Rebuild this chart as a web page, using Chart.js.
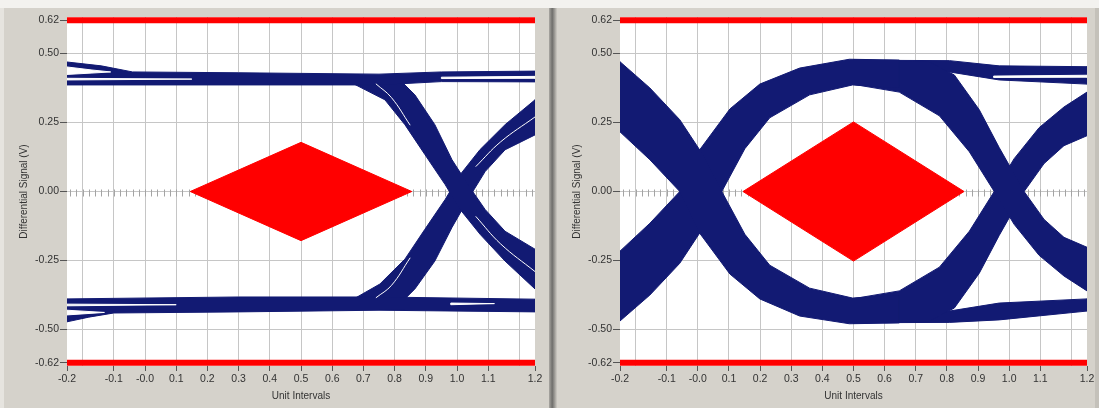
<!DOCTYPE html>
<html lang="en">
<head>
<meta charset="UTF-8">
<title>Eye Diagrams</title>
<script src="https://cdn.jsdelivr.net/npm/chart.js"></script>
<style>
  html, body { margin: 0; padding: 0; }
  body { width: 1099px; height: 408px; background: #f3f2ef; position: relative; overflow: hidden; }
  .panel { position: absolute; top: 8px; height: 400px; background: #d5d2cb; }
  #panelLeft { left: 0; width: 549px; border-left: 4px solid #e6e4df; box-sizing: border-box; }
  #divider { position: absolute; left: 549px; top: 8px; width: 8px; height: 400px;
             background: linear-gradient(to right, #aaa8a3, #6f6e6b 40%, #9d9b96 70%, #cfccc5); }
  #panelRight { left: 557px; width: 542px; border-right: 4px solid #c4c1ba; box-sizing: border-box; }
  canvas { position: absolute; top: 0; }
  #leftChart { left: 0; }
  #rightChart { left: 553px; }
</style>
</head>
<body>
  <div class="panel" id="panelLeft"></div>
  <div id="divider"></div>
  <div class="panel" id="panelRight"></div>
  <canvas id="leftChart" width="548" height="408"></canvas>
  <canvas id="rightChart" width="546" height="408"></canvas>

<script>
// axis ticks (ends are the axis limits, LabVIEW prints them rounded)
const xTickValues = [-0.25, -0.2, -0.1, 0.0, 0.1, 0.2, 0.3, 0.4, 0.5, 0.6, 0.7, 0.8, 0.9, 1.0, 1.1, 1.2, 1.25];
const xTickLabels = ['-0.2', '', '-0.1', '-0.0', '0.1', '0.2', '0.3', '0.4', '0.5', '0.6', '0.7', '0.8', '0.9', '1.0', '1.1', '', '1.2'];
const yTickValues = [-0.62, -0.5, -0.25, 0, 0.25, 0.5, 0.62];
const limitLevel = 0.62;

// eye masks (diamonds)
const leftMask = [[0.145, 0], [0.5, 0.178], [0.855, 0], [0.5, -0.178], [0.145, 0]];
const rightMask = [[0.145, 0], [0.5, 0.252], [0.855, 0], [0.5, -0.252], [0.145, 0]];

// left eye: trace envelopes (x in UI, y in V)
const leftTopRail = [[-0.25, 0.469], [-0.14, 0.455], [-0.04, 0.433], [0.3, 0.43], [0.75, 0.425], [0.95, 0.433], [1.25, 0.436],
  [1.25, 0.397], [0.95, 0.398], [0.75, 0.386], [0.3, 0.386], [-0.25, 0.386], [-0.25, 0.469]];
const leftBottomRail = [[-0.25, -0.389], [0.3, -0.382], [0.75, -0.382], [1.25, -0.39],
  [1.25, -0.436], [0.75, -0.43], [0.3, -0.436], [-0.1, -0.44], [-0.18, -0.455], [-0.25, -0.472], [-0.25, -0.389]];
const leftFall = [[0.66, 0.395], [0.769, 0.332], [0.833, 0.242], [0.897, 0.134], [0.962, 0.025], [1.01, -0.065], [1.074, -0.155], [1.154, -0.252], [1.25, -0.353],
  [1.25, -0.209], [1.154, -0.144], [1.09, -0.065], [1.035, 0.025], [0.984, 0.115], [0.929, 0.242], [0.865, 0.35], [0.817, 0.404], [0.66, 0.395]];
const leftRise = [[0.66, -0.395], [0.753, -0.335], [0.833, -0.245], [0.897, -0.137], [0.962, -0.029], [1.01, 0.061], [1.074, 0.152], [1.154, 0.242], [1.25, 0.332],
  [1.25, 0.205], [1.154, 0.151], [1.09, 0.072], [1.035, -0.029], [0.984, -0.13], [0.929, -0.252], [0.865, -0.353], [0.817, -0.407], [0.66, -0.395]];
const leftGaps = [
  [[-0.25, 0.451], [-0.17, 0.44], [-0.11, 0.433], [-0.17, 0.429], [-0.25, 0.424], [-0.25, 0.451]],
  [[-0.25, 0.41], [0.15, 0.407], [-0.25, 0.404], [-0.25, 0.41]],
  [[0.95, 0.414], [1.25, 0.417], [1.25, 0.41], [0.95, 0.409], [0.95, 0.414]],
  [[-0.25, -0.43], [-0.13, -0.438], [-0.25, -0.447], [-0.25, -0.43]],
  [[-0.25, -0.408], [0.1, -0.41], [-0.25, -0.414], [-0.25, -0.408]],
  [[0.98, -0.404], [1.12, -0.406], [0.98, -0.41], [0.98, -0.404]]
];
const leftStreaks = [
  [[0.74, 0.39], [0.79, 0.34], [0.85, 0.24]],
  [[1.06, -0.09], [1.14, -0.19], [1.25, -0.29]],
  [[0.74, -0.385], [0.79, -0.34], [0.85, -0.24]],
  [[1.06, 0.09], [1.14, 0.18], [1.25, 0.27]]
];

// right eye: trace envelopes
const rightFall1 = [[-0.25, 0.47], [-0.154, 0.375], [-0.058, 0.26], [0.022, 0.123], [0.077, 0], [0.151, -0.155], [0.231, -0.267], [0.359, -0.35], [0.497, -0.386], [0.647, -0.375],
  [0.647, -0.476], [0.487, -0.479], [0.327, -0.451], [0.199, -0.389], [0.103, -0.299], [0.006, -0.151], [-0.058, 0], [-0.154, 0.115], [-0.25, 0.216], [-0.25, 0.47]];
const rightRise1 = [[-0.25, -0.469], [-0.154, -0.375], [-0.058, -0.26], [0.022, -0.123], [0.077, 0], [0.151, 0.155], [0.231, 0.267], [0.359, 0.35], [0.497, 0.386], [0.647, 0.375],
  [0.647, 0.476], [0.487, 0.479], [0.327, 0.447], [0.199, 0.389], [0.103, 0.299], [0.006, 0.151], [-0.058, 0], [-0.154, -0.115], [-0.25, -0.216], [-0.25, -0.469]];
const rightFall2 = [[0.5, 0.477], [0.744, 0.469], [0.824, 0.422], [0.904, 0.296], [0.968, 0.159], [1.048, 0], [1.112, -0.101], [1.176, -0.166], [1.25, -0.202],
  [1.25, -0.36], [1.176, -0.306], [1.096, -0.231], [1.016, -0.119], [0.952, 0], [0.872, 0.144], [0.776, 0.274], [0.647, 0.36], [0.5, 0.388], [0.5, 0.477]];
const rightRise2 = [[0.5, -0.477], [0.744, -0.469], [0.824, -0.422], [0.904, -0.296], [0.968, -0.159], [1.048, 0], [1.112, 0.101], [1.176, 0.166], [1.25, 0.202],
  [1.25, 0.36], [1.176, 0.306], [1.096, 0.231], [1.016, 0.119], [0.952, 0], [0.872, -0.144], [0.776, -0.274], [0.647, -0.36], [0.5, -0.388], [0.5, -0.477]];
const rightTopRail = [[0.6, 0.475], [0.808, 0.474], [0.968, 0.455], [1.25, 0.452], [1.25, 0.389], [0.968, 0.404], [0.808, 0.433], [0.6, 0.44], [0.6, 0.475]];
const rightBottomRail = [[0.6, -0.44], [0.808, -0.433], [0.968, -0.404], [1.25, -0.389], [1.25, -0.433], [0.968, -0.465], [0.808, -0.474], [0.6, -0.475], [0.6, -0.44]];
const rightGaps = [
  [[0.95, 0.418], [1.25, 0.421], [1.25, 0.414], [0.95, 0.413], [0.95, 0.418]]
];
const rightStreaks = [];

const traceColor = '#121a73';
const maskColor = '#ff0000';
const gridColor = '#c6c6c6';

Chart.defaults.font.family = '"Liberation Sans", Arial, sans-serif';
Chart.defaults.color = '#333';

function pts(arr) {
  return arr.map(p => ({ x: p[0], y: p[1] }));
}

function shape(arr, color, order) {
  return { data: pts(arr), showLine: true, fill: 'shape', backgroundColor: color, borderColor: color,
           borderWidth: 1, pointRadius: 0, tension: 0, order: order, clip: 0 };
}

function streak(arr) {
  return { data: pts(arr), showLine: true, fill: false, borderColor: '#ffffff', borderWidth: 1,
           pointRadius: 0, tension: 0.4, order: 2, clip: 0 };
}

// white plot area + zero line with minor ticks
const plotArea = {
  id: 'plotArea',
  beforeDraw(chart) {
    const a = chart.chartArea, ctx = chart.ctx;
    ctx.save();
    ctx.fillStyle = '#ffffff';
    ctx.fillRect(a.left, a.top, a.right - a.left, a.bottom - a.top);
    ctx.restore();
  },
  beforeDatasetsDraw(chart) {
    const xs = chart.scales.x, ys = chart.scales.y, ctx = chart.ctx;
    const py = Math.round(ys.getPixelForValue(0)) + 0.5;
    ctx.save();
    ctx.strokeStyle = '#a4a4a4';
    ctx.lineWidth = 1;
    ctx.beginPath();
    for (let i = -12; i <= 62; i++) {
      const px = Math.round(xs.getPixelForValue(i * 0.02)) + 0.5;
      ctx.moveTo(px, py - 3);
      ctx.lineTo(px, py + 4);
    }
    ctx.stroke();
    ctx.restore();
  }
};

function makeChart(id, bands, gaps, streaks, mask, rightPad) {
  const datasets = [];
  datasets.push({ data: pts([[-0.25, limitLevel], [1.25, limitLevel]]), showLine: true, borderColor: maskColor,
                  borderWidth: 6, pointRadius: 0, fill: false, order: 1, clip: 0 });
  datasets.push({ data: pts([[-0.25, -limitLevel], [1.25, -limitLevel]]), showLine: true, borderColor: maskColor,
                  borderWidth: 6, pointRadius: 0, fill: false, order: 1, clip: 0 });
  datasets.push(shape(mask, maskColor, 1));
  gaps.forEach(g => datasets.push(shape(g, '#ffffff', 2)));
  streaks.forEach(s => datasets.push(streak(s)));
  bands.forEach(b => datasets.push(shape(b, traceColor, 3)));

  return new Chart(document.getElementById(id), {
    type: 'scatter',
    data: { datasets: datasets },
    plugins: [plotArea],
    options: {
      responsive: false,
      animation: false,
      devicePixelRatio: 1,
      layout: { padding: { left: 0, right: rightPad, top: 17, bottom: 0 } },
      plugins: { legend: { display: false }, tooltip: { enabled: false } },
      scales: {
        x: {
          type: 'linear',
          min: -0.25,
          max: 1.25,
          afterFit: s => { s.height = 42; },
          afterBuildTicks: s => { s.ticks = xTickValues.map(v => ({ value: v })); },
          border: { display: false },
          grid: {
            color: c => (c.tick && (c.tick.value < -0.22 || c.tick.value > 1.22)) ? 'rgba(0,0,0,0)' : gridColor,
            tickColor: c => (xTickLabels[c.index] === '') ? 'rgba(0,0,0,0)' : '#555',
            tickLength: 5
          },
          ticks: {
            autoSkip: false,
            maxRotation: 0,
            padding: 2,
            font: { size: 10.5 },
            callback: (v, i) => xTickLabels[i]
          },
          title: { display: true, text: 'Unit Intervals', font: { size: 10 }, padding: { top: 0, bottom: 6 } }
        },
        y: {
          type: 'linear',
          min: -0.632,
          max: 0.632,
          afterFit: s => { s.width = 67; },
          afterBuildTicks: s => { s.ticks = yTickValues.map(v => ({ value: v })); },
          border: { display: false },
          grid: { color: gridColor, tickColor: '#555', tickLength: 7 },
          ticks: {
            padding: 1,
            font: { size: 10.5 },
            callback: v => v.toFixed(2)
          },
          title: { display: true, text: 'Differential Signal (V)', font: { size: 10 }, padding: { top: 18, bottom: 0 } }
        }
      }
    }
  });
}

makeChart('leftChart', [leftTopRail, leftBottomRail, leftFall, leftRise], leftGaps, leftStreaks, leftMask, 13);
makeChart('rightChart', [rightFall1, rightRise1, rightFall2, rightRise2, rightTopRail, rightBottomRail], rightGaps, rightStreaks, rightMask, 12);
</script>
</body>
</html>
